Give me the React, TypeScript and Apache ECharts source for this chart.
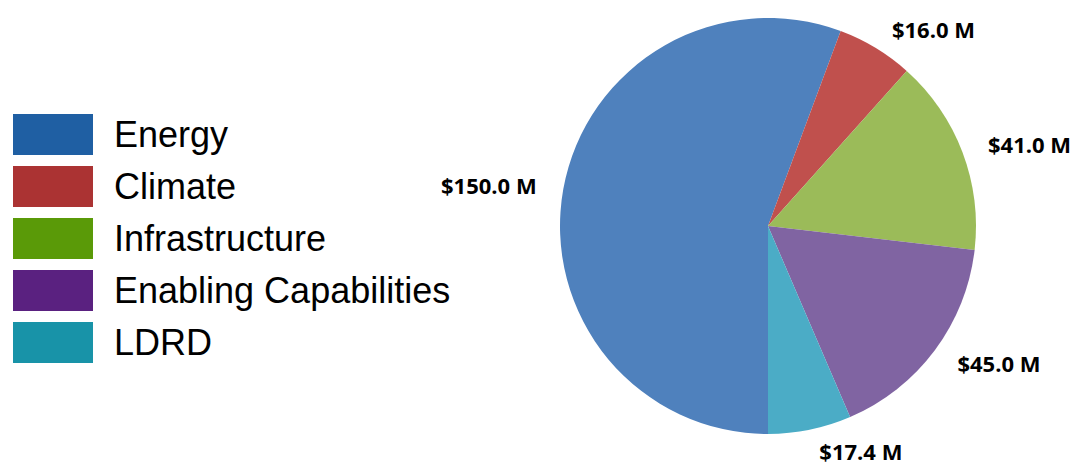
import React, { useEffect, useRef } from "react";
import * as echarts from "echarts";

const categories = ["Energy", "Climate", "Infrastructure", "Enabling Capabilities", "LDRD"];
const values = [150.0, 16.0, 41.0, 45.0, 17.4];
const sliceColors = ["#4F81BD", "#C0504D", "#9BBB59", "#8064A2", "#4BACC6"];
const legendColors = ["#1F5FA3", "#AB3333", "#5A9A08", "#5A2180", "#1893A8"];

export default function App() {
  const ref = useRef<HTMLDivElement>(null);
  useEffect(() => {
    document.body.style.margin = "0";
    const chart = echarts.init(ref.current!, null, { renderer: "svg" });
    chart.setOption({
      animation: false,
      backgroundColor: "#ffffff",
      legend: {
        orient: "vertical",
        left: 13,
        top: 114,
        padding: 0,
        icon: "rect",
        itemWidth: 80,
        itemHeight: 41,
        itemGap: 11,
        selectedMode: false,
        textStyle: {
          fontFamily: "Liberation Sans",
          fontSize: 36,
          lineHeight: 23,
          color: "#000",
          padding: [0, 0, 18, 16],
        },
        data: categories.map((c, i) => ({ name: c, itemStyle: { color: legendColors[i] } })),
      },
      series: [
        {
          type: "pie",
          center: [768, 226],
          radius: 208,
          startAngle: 270,
          clockwise: true,
          avoidLabelOverlap: false,
          data: categories.map((c, i) => ({
            name: c,
            value: values[i],
            itemStyle: { color: sliceColors[i] },
          })),
          label: {
            show: true,
            position: "outside",
            formatter: (p: any) => "$" + Number(p.value).toFixed(1) + " M",
            fontFamily: "Open Sans",
            fontWeight: "bold",
            fontSize: 22,
            color: "#000",
            distanceToLabelLine: 5,
          },
          labelLine: { show: false, length: 22, length2: 0 },
          emphasis: { disabled: true },
        },
      ],
    });
    return () => chart.dispose();
  }, []);
  return <div ref={ref} style={{ width: 1086, height: 470 }} />;
}
